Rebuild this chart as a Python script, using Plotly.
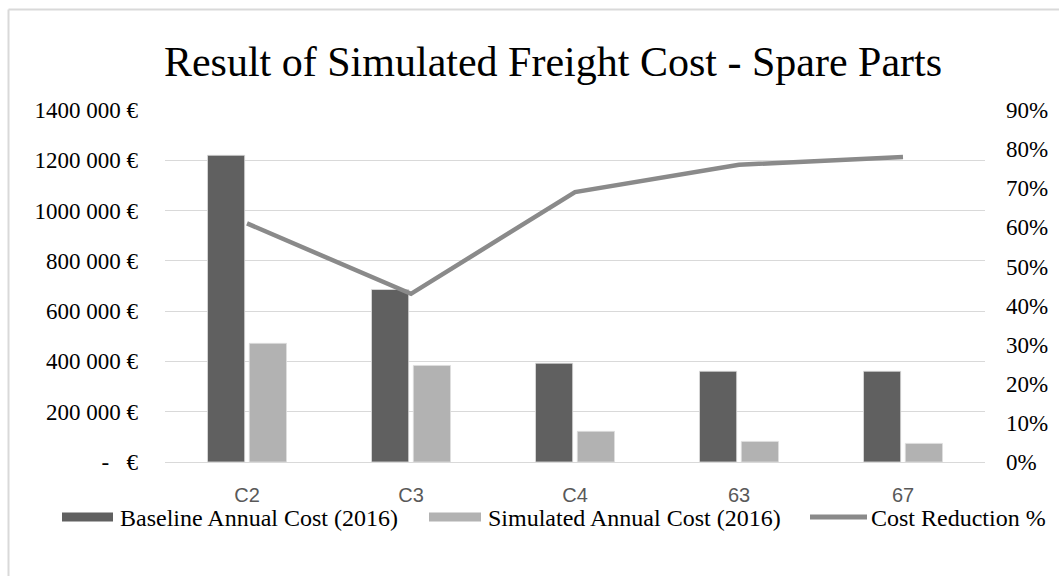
import plotly.graph_objects as go

# Freight cost per region, annual totals in EUR and the relative reduction
categories = ["C2", "C3", "C4", "63", "67"]
baseline_cost = [1220000, 686000, 393000, 361000, 361000]
simulated_cost = [472000, 384000, 122000, 82000, 74000]
cost_reduction = [0.61, 0.43, 0.69, 0.76, 0.78]

series_names = ["Baseline Annual Cost (2016)", "Simulated Annual Cost (2016)", "Cost Reduction %"]

left_tick_vals = [0, 200000, 400000, 600000, 800000, 1000000, 1200000, 1400000]
left_tick_text = ["-   €", "200 000 €", "400 000 €", "600 000 €", "800 000 €",
                  "1000 000 €", "1200 000 €", "1400 000 €"]
right_tick_vals = [0, 0.1, 0.2, 0.3, 0.4, 0.5, 0.6, 0.7, 0.8, 0.9]
right_tick_text = ["0%", "10%", "20%", "30%", "40%", "50%", "60%", "70%", "80%", "90%"]

W, H = 1059, 576
ML, MR, MT, MB = 165, 74, 110, 114
PW, PH = W - ML - MR, H - MT - MB

SERIF = "Liberation Serif, Times New Roman, serif"
NARROW = "Liberation Sans Narrow, Arial Narrow, Liberation Sans, sans-serif"

DARK, LIGHT, LINE = "#606060", "#b2b2b2", "#8a8a8a"

fig = go.Figure()
fig.add_trace(go.Bar(
    x=categories, y=baseline_cost, name=series_names[0],
    marker=dict(color=DARK, line=dict(color="#e0e0e0", width=0.8)),
))
fig.add_trace(go.Bar(
    x=categories, y=simulated_cost, name=series_names[1],
    marker=dict(color=LIGHT, line=dict(color="#e0e0e0", width=0.8)),
))
fig.add_trace(go.Scatter(
    x=categories, y=cost_reduction, name=series_names[2], yaxis="y2",
    mode="lines", line=dict(color=LINE, width=4.5),
))


def px_x(px):
    return (px - ML) / PW


def px_y(py):
    return (H - MB - py) / PH


# light frame edges (top and left) of the chart area
fig.add_shape(type="line", xref="paper", yref="paper",
              x0=px_x(8.5), x1=px_x(W + 5), y0=px_y(9.5), y1=px_y(9.5),
              line=dict(color="#d9d9d9", width=2))
fig.add_shape(type="line", xref="paper", yref="paper",
              x0=px_x(8.5), x1=px_x(8.5), y0=px_y(9.5), y1=px_y(H + 5),
              line=dict(color="#d9d9d9", width=2))

# legend row drawn below the category labels with wide swatches
legend_items = [
    dict(kind="bar", color=DARK, x0=62, x1=113, tx=118),
    dict(kind="bar", color=LIGHT, x0=429, x1=481, tx=486),
    dict(kind="line", color=LINE, x0=810, x1=867, tx=869),
]
LEG_Y = 517
for name, item in zip(series_names, legend_items):
    if item["kind"] == "bar":
        fig.add_shape(type="rect", xref="paper", yref="paper",
                      x0=px_x(item["x0"]), x1=px_x(item["x1"]),
                      y0=px_y(LEG_Y + 4.5), y1=px_y(LEG_Y - 4.5),
                      fillcolor=item["color"], line=dict(width=0))
    else:
        fig.add_shape(type="line", xref="paper", yref="paper",
                      x0=px_x(item["x0"]), x1=px_x(item["x1"]),
                      y0=px_y(LEG_Y), y1=px_y(LEG_Y),
                      line=dict(color=item["color"], width=5))
    fig.add_annotation(text=name, xref="paper", yref="paper",
                       x=px_x(item["tx"]), y=px_y(LEG_Y + 1),
                       xanchor="left", yanchor="middle", showarrow=False,
                       font=dict(family=SERIF, size=24, color="#000000"))

fig.update_layout(
    width=W, height=H,
    margin=dict(l=ML, r=MR, t=MT, b=MB, autoexpand=False),
    paper_bgcolor="white", plot_bgcolor="white",
    barmode="group", bargap=0.49, bargroupgap=0.11,
    showlegend=False,
    title=dict(text="Result of Simulated Freight Cost - Spare Parts",
               font=dict(family=SERIF, size=42, color="#000000"),
               xref="container", x=553 / W, xanchor="center",
               yref="container", y=1 - 61 / H, yanchor="middle"),
    font=dict(family=SERIF, color="#000000"),
    xaxis=dict(showgrid=False, showline=False, ticks="", automargin=False,
               tickfont=dict(family=NARROW, size=20, color="#595959"),
               ticklabelstandoff=19),
    yaxis=dict(range=[0, 1400000], tickvals=left_tick_vals, ticktext=left_tick_text,
               showgrid=True, gridcolor="#d9d9d9", gridwidth=1.3, automargin=False,
               zeroline=True, zerolinecolor="#d9d9d9", zerolinewidth=1.3,
               showline=False, ticks="",
               tickfont=dict(family=SERIF, size=23, color="#000000"),
               ticklabelstandoff=26),
    yaxis2=dict(range=[0, 0.9], tickvals=right_tick_vals, ticktext=right_tick_text,
                overlaying="y", side="right", showgrid=False, zeroline=False,
                showline=False, ticks="", automargin=False,
                tickfont=dict(family=SERIF, size=23, color="#000000"),
                ticklabelstandoff=20),
)

# keep the page itself from showing scrollbars around the fixed-size figure
page_script = (
    "document.documentElement.style.overflow='hidden';"
    "document.body.style.margin='0';"
    "document.body.style.overflow='hidden';"
)
fig.write_html("out.html", post_script=page_script)
